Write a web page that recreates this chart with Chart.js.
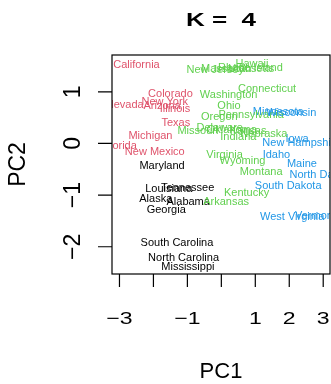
<!DOCTYPE html>
<html>
<head>
<meta charset="utf-8">
<script src="https://cdn.jsdelivr.net/npm/chart.js@4/dist/chart.umd.min.js"></script>
<style>
  html, body { margin: 0; padding: 0; background: #ffffff; }
  canvas { display: block; }
</style>
</head>
<body>
<canvas id="chart" width="331" height="384"></canvas>
<script>
// US states placed by their first two principal component scores, coloured by k-means cluster
const states = ['Alabama','Alaska','Arizona','Arkansas','California','Colorado','Connecticut','Delaware',
  'Florida','Georgia','Hawaii','Idaho','Illinois','Indiana','Iowa','Kansas','Kentucky','Louisiana',
  'Maine','Maryland','Massachusetts','Michigan','Minnesota','Mississippi','Missouri','Montana',
  'Nebraska','Nevada','New Hampshire','New Jersey','New Mexico','New York','North Carolina',
  'North Dakota','Ohio','Oklahoma','Oregon','Pennsylvania','Rhode Island','South Carolina',
  'South Dakota','Tennessee','Texas','Utah','Vermont','Virginia','Washington','West Virginia',
  'Wisconsin','Wyoming'];
const pc1 = [-0.976,-1.931,-1.745,0.140,-2.499,-1.499,1.345,-0.047,
  -2.983,-1.623,0.903,1.623,-1.365,0.500,2.231,0.789,0.743,-1.549,
  2.373,-1.746,0.481,-2.087,1.676,-0.986,-0.690,1.174,
  1.253,-2.846,2.360,-0.180,-1.960,-1.666,-1.112,
  2.962,0.224,0.309,-0.059,0.879,0.855,-1.307,
  1.968,-0.990,-1.342,0.545,2.773,0.095,0.215,2.087,
  2.059,0.623];
const pc2 = [-1.122,-1.062,0.738,-1.109,1.527,0.978,1.078,0.322,
  -0.039,-1.266,1.555,-0.209,0.675,0.150,0.103,0.267,-0.949,-0.862,
  -0.373,-0.423,1.460,0.154,0.626,-2.370,0.261,-0.531,
  0.192,0.768,0.018,1.435,-0.141,0.815,-2.206,
  -0.593,0.735,0.285,0.536,0.565,1.477,-1.914,
  -0.815,-0.852,0.408,1.457,-1.388,-0.198,0.960,-1.411,
  0.605,-0.318];
// cluster id per state (1..4)
const cluster = [1,1,2,3,2,2,3,3,
  2,1,3,4,2,3,4,3,3,1,
  4,1,3,2,4,1,3,3,
  3,2,4,3,2,2,1,
  4,3,3,3,3,3,1,
  4,1,2,3,4,3,3,4,
  4,3];
const clusterColors = ['#000000', '#DF536B', '#61D04F', '#2297E6'];

const xTicks = [-3, -2, -1, 0, 1, 2, 3];
const xTickLabels = ['\u22123', '', '\u22121', '', '1', '2', '3'];
const yTicks = [-2, -1, 0, 1];
const yTickLabels = ['\u22122', '\u22121', '0', '1'];
const titleText = 'K =  4';
const xTitle = 'PC1';
const yTitle = 'PC2';

const FONT = '"Liberation Sans", Arial, Helvetica, sans-serif';

function drawText(ctx, text, x, y, font, size, sy, rot) {
  ctx.save();
  ctx.translate(x, y);
  if (rot) ctx.rotate(rot);
  ctx.scale(1, sy);
  ctx.font = font;
  ctx.textAlign = 'center';
  ctx.textBaseline = 'alphabetic';
  ctx.fillText(text, 0, 0.716 * size / 2);
  ctx.restore();
}

const statePlot = {
  id: 'statePlot',
  afterDatasetsDraw(chart) {
    const { ctx, chartArea: a } = chart;
    const meta = chart.getDatasetMeta(0);
    ctx.save();
    ctx.beginPath();
    ctx.rect(a.left, a.top, a.right - a.left, a.bottom - a.top);
    ctx.clip();
    ctx.font = '11px ' + FONT;
    ctx.textAlign = 'center';
    ctx.textBaseline = 'alphabetic';
    meta.data.forEach((pt, i) => {
      ctx.fillStyle = clusterColors[cluster[i] - 1];
      ctx.fillText(states[i], pt.x, pt.y + 3.9);
    });
    ctx.restore();
  },
  afterDraw(chart) {
    const { ctx, chartArea: a, scales: { x, y } } = chart;
    ctx.save();
    ctx.strokeStyle = '#000000';
    ctx.fillStyle = '#000000';
    ctx.lineWidth = 1.2;
    // frame
    ctx.strokeRect(a.left, a.top, a.right - a.left, a.bottom - a.top);
    // x axis ticks and labels
    ctx.beginPath();
    xTicks.forEach(v => {
      const px = x.getPixelForValue(v);
      ctx.moveTo(px, a.bottom);
      ctx.lineTo(px, a.bottom + 13);
    });
    // y axis ticks
    yTicks.forEach(v => {
      const py = y.getPixelForValue(v);
      ctx.moveTo(a.left, py);
      ctx.lineTo(a.left - 14, py);
    });
    ctx.stroke();
    xTicks.forEach((v, i) => {
      if (xTickLabels[i]) drawText(ctx, xTickLabels[i], x.getPixelForValue(v), 318, '23px ' + FONT, 23, 0.75, 0);
    });
    yTicks.forEach((v, i) => {
      drawText(ctx, yTickLabels[i], 72, y.getPixelForValue(v), '23px ' + FONT, 23, 1, -Math.PI / 2);
    });
    // titles
    drawText(ctx, titleText, (a.left + a.right) / 2, 19.7, 'bold 26px ' + FONT, 26, 0.7, 0);
    drawText(ctx, xTitle, (a.left + a.right) / 2, 370, '22px ' + FONT, 22, 1, 0);
    drawText(ctx, yTitle, 16.5, (a.top + a.bottom) / 2, '23px ' + FONT, 23, 1, -Math.PI / 2);
    ctx.restore();
  }
};

new Chart(document.getElementById('chart'), {
  type: 'scatter',
  data: {
    datasets: [{
      data: pc1.map((v, i) => ({ x: v, y: pc2[i] })),
      pointRadius: 0,
      pointHoverRadius: 0
    }]
  },
  options: {
    responsive: false,
    animation: false,
    events: [],
    layout: { padding: { left: 112, top: 55, right: 1, bottom: 110 } },
    plugins: { legend: { display: false }, tooltip: { enabled: false }, title: { display: false } },
    scales: {
      x: { type: 'linear', min: -3.22, max: 3.2, display: false },
      y: { type: 'linear', min: -2.527, max: 1.712, display: false }
    }
  },
  plugins: [statePlot]
});
</script>
</body>
</html>
